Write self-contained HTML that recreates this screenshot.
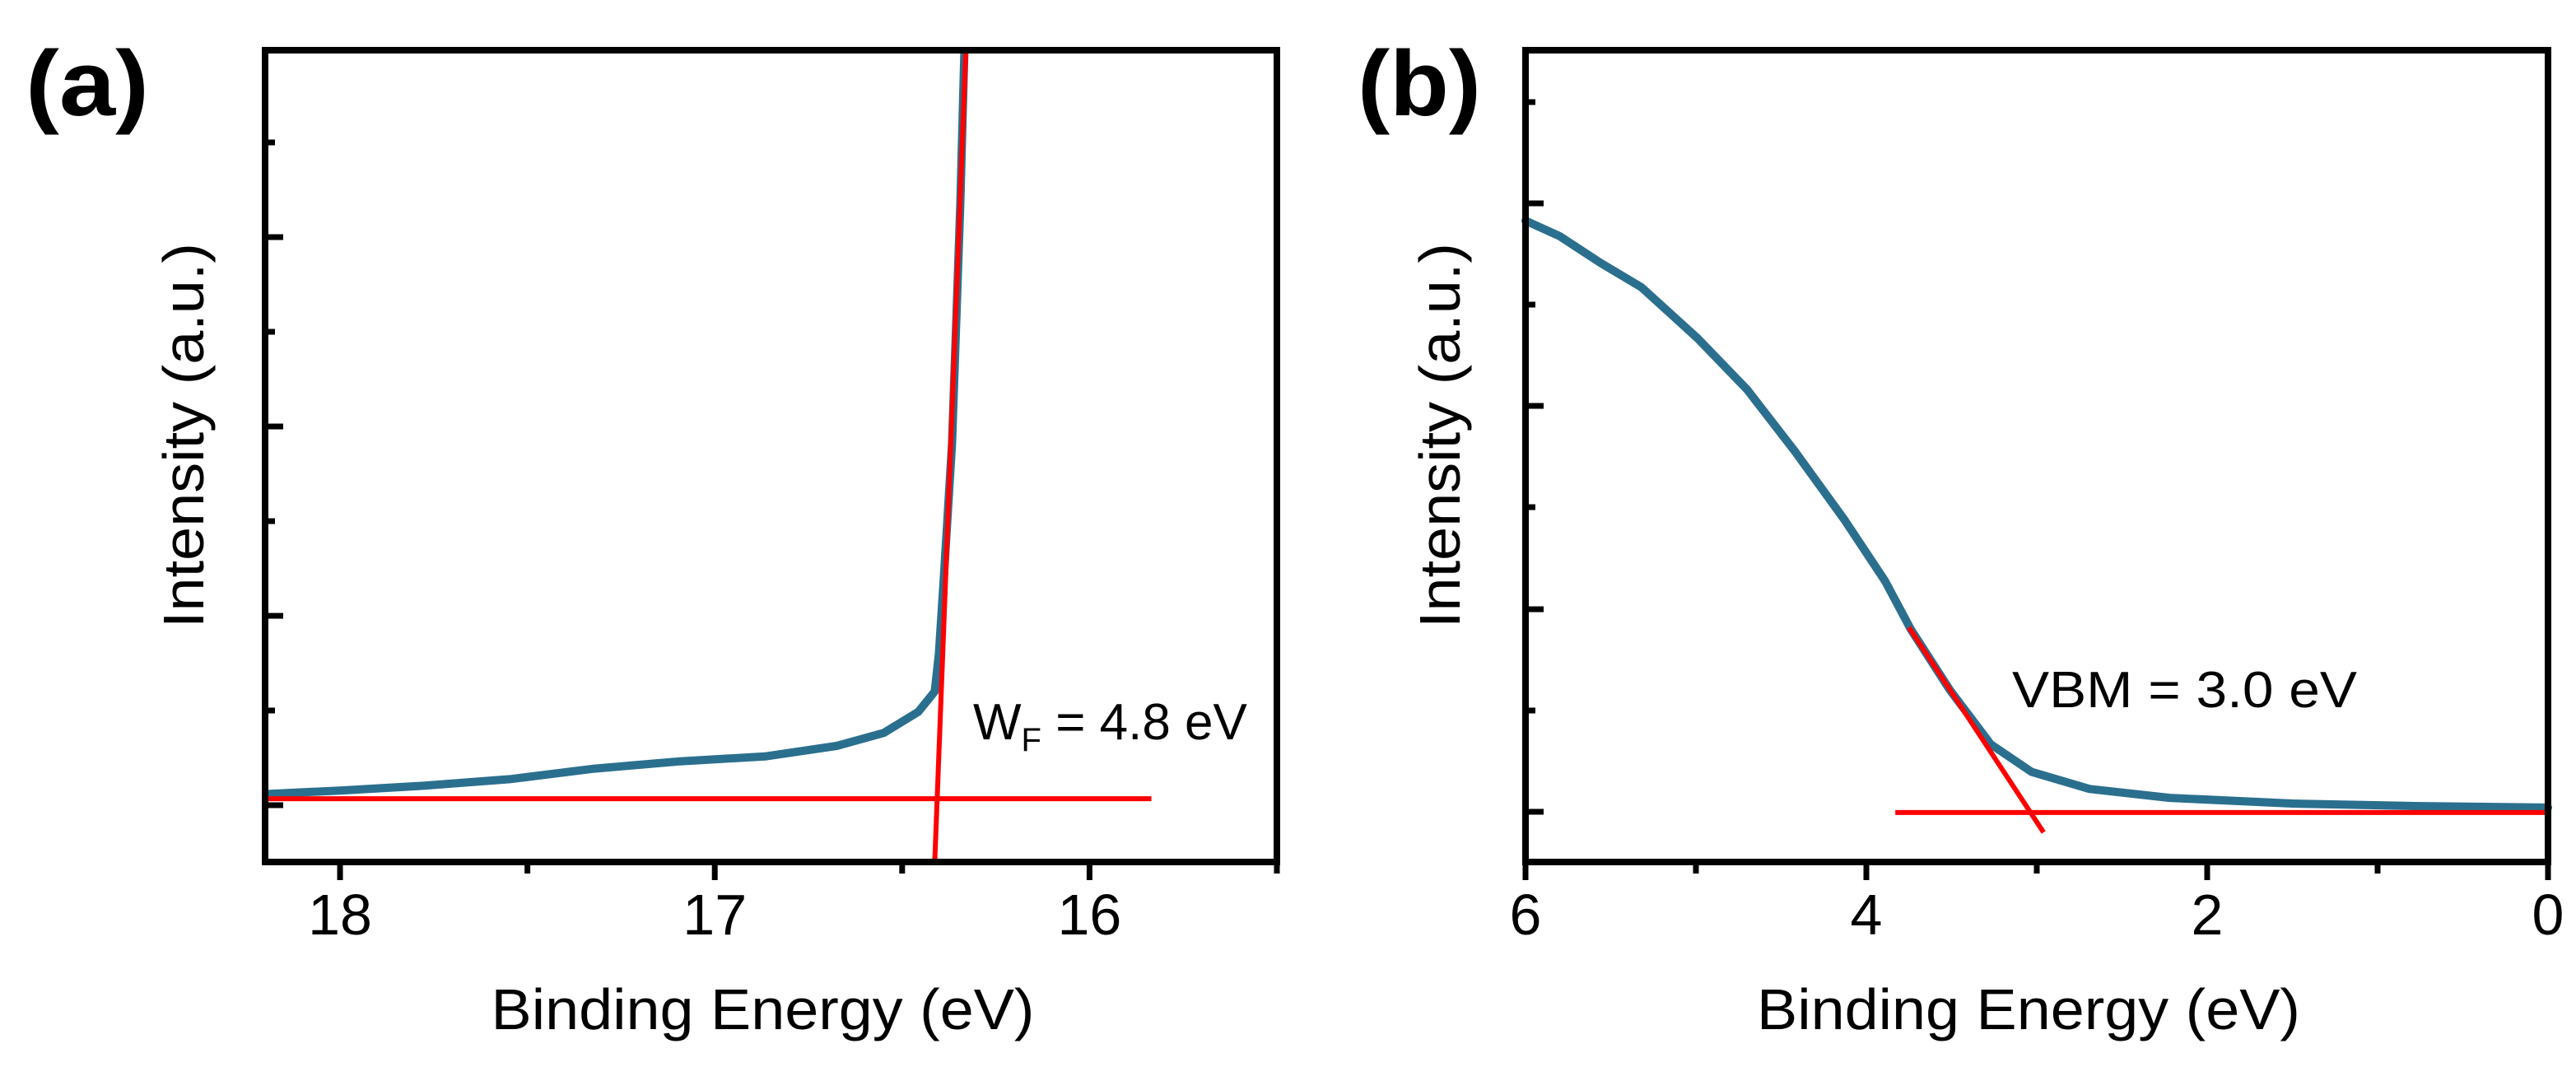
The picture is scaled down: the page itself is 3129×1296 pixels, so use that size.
<!DOCTYPE html>
<html><head><meta charset="utf-8">
<style>
html,body{margin:0;padding:0;background:#fff;}
svg{display:block;font-family:"Liberation Sans",Arial,sans-serif;}
</style></head>
<body>
<svg id="fig" width="3129" height="1296" viewBox="0 0 3129 1296" xmlns="http://www.w3.org/2000/svg">
<rect width="3129" height="1296" fill="#fff"/>
</svg>
<script>
// Panel (a) data
const aEnergy = [18.187,18.0,17.774,17.547,17.321,17.092,16.866,16.675,16.549,16.457,16.413,16.402,16.389,16.367,16.345,16.334];
const aIntensity = [8.4,8.8,9.4,10.2,11.5,12.4,13.0,14.3,15.9,18.5,21.0,25.6,34.8,51.5,80.9,99.8];
const aBaseline = [[18.2,7.8],[15.835,7.8]];
const aEdgeFit = [[16.413,0],[16.330,100]];
const aTicksMajor = [18,17,16];
const aTickLabels = ["18","17","16"];
const aTicksMinor = [17.5,16.5,15.5];
// Panel (b) data
const bEnergy = [6.0,5.80,5.56,5.32,4.99,4.70,4.42,4.13,3.89,3.74,3.51,3.27,3.03,2.69,2.22,1.50,0.79,0.0];
const bIntensity = [79.0,77.1,73.8,70.8,64.5,58.2,50.6,42.2,34.6,28.7,21.2,14.5,11.1,9.0,7.9,7.2,6.9,6.7];
const bBaseline = [[3.83,6.1],[0,6.1]];
const bEdgeFit = [[3.75,28.9],[2.96,3.65]];
const bTicksMajor = [6,4,2,0];
const bTickLabels = ["6","4","2","0"];
const bTicksMinor = [5,3,1];

const NS = "http://www.w3.org/2000/svg";
const svg = document.getElementById('fig');
function mk(tag, attrs, parent){
  const e = document.createElementNS(NS, tag);
  for (const k in attrs) e.setAttribute(k, attrs[k]);
  (parent||svg).appendChild(e);
  return e;
}

function panel(cfg){
  const g = mk('g', {});
  
  
  const L=cfg.left, R=cfg.right, T=61, B=1047;
  const sx = v => L + (cfg.x0 - v) / (cfg.x0 - cfg.x1) * (R - L);
  const sy = v => B - v / 100 * (B - T);
  // y ticks (inward)
  cfg.yTicks.forEach((y,i)=>{
    const t = mk('line',{x1:L,x2:L+(i%2===1?22:12),y1:y,y2:y,stroke:'#000','stroke-width':7},g);
    
    
  });
  // x ticks (outward)
  cfg.major.forEach((v,i)=>{
    const t = mk('line',{x1:sx(v),x2:sx(v),y1:B,y2:B+22,stroke:'#000','stroke-width':7},g);
    
    
    const lb = mk('text',{x:sx(v),y:1135,'font-size':70,'text-anchor':'middle',fill:'#000'},g);
    lb.textContent = cfg.labels[i];
    
    
  });
  cfg.minor.forEach(v=>{
    const t = mk('line',{x1:sx(v),x2:sx(v),y1:B,y2:B+14,stroke:'#000','stroke-width':7},g);
    
    
  });
  // data curve
  const pts = cfg.ex.map((e,i)=>sx(e).toFixed(1)+','+sy(cfg.iy[i]).toFixed(1)).join(' ');
  const c = mk('polyline',{points:pts,fill:'none',stroke:'#2b6f8e','stroke-width':10,'stroke-linejoin':'round','stroke-linecap':'round'},g);
  
  
  // fit lines
  [cfg.base, cfg.fit].forEach((ln,k)=>{
    const l = mk('line',{x1:sx(ln[0][0]),y1:sy(ln[0][1]),x2:sx(ln[1][0]),y2:sy(ln[1][1]),stroke:'#ff0000','stroke-width':6},g);
    
    
  });
  // frame
  const f = mk('rect',{x:L,y:T,width:R-L,height:B-T,fill:'none',stroke:'#000','stroke-width':8},g);
  
  
  // axis titles
  const xt = mk('text',{x:(L+R)/2 - 10,y:1250,'font-size':70,'text-anchor':'middle',fill:'#000',textLength:660,lengthAdjust:'spacingAndGlyphs'},g);
  xt.textContent = 'Binding Energy (eV)';
  
  
  const yt = mk('text',{x:0,y:0,'font-size':70,'text-anchor':'middle',fill:'#000',textLength:468,lengthAdjust:'spacingAndGlyphs',transform:'translate('+cfg.ytX+',529) rotate(-90)'},g);
  yt.textContent = 'Intensity (a.u.)';
  
  
  // panel letter
  const pl = mk('text',{x:cfg.plX,y:140,'font-size':112,'font-weight':'bold',fill:'#000',textLength:150,lengthAdjust:'spacingAndGlyphs'},g);
  pl.textContent = cfg.letter;
  
  
  return g;
}

const ga = panel({name:'panel-a',left:322,right:1551,x0:18.2,x1:15.5,ex:aEnergy,iy:aIntensity,base:aBaseline,fit:aEdgeFit,
  major:aTicksMajor,labels:aTickLabels,minor:aTicksMinor,
  yTicks:[173,288,403,518,633,748,863,978],ytX:247,plX:31,letter:'(a)'});
const gb = panel({name:'panel-b',left:1853,right:3095,x0:6,x1:0,ex:bEnergy,iy:bIntensity,base:bBaseline,fit:bEdgeFit,
  major:bTicksMajor,labels:bTickLabels,minor:bTicksMinor,
  yTicks:[124,247,370,493,616,740,863,986],ytX:1773,plX:1649,letter:'(b)'});

// annotations
const wa = mk('text',{x:1182,y:898,'font-size':62,fill:'#000'},ga);


const w1 = mk('tspan',{},wa); w1.textContent='W';
const w2 = mk('tspan',{'font-size':40,dy:14},wa); w2.textContent='F';
const w3 = mk('tspan',{dy:-14},wa); w3.textContent=' = 4.8 eV';

const vb = mk('text',{x:2444,y:859,'font-size':62,fill:'#000','xml:space':'preserve',textLength:419,lengthAdjust:'spacingAndGlyphs'},gb);
vb.textContent = 'VBM  = 3.0 eV';


</script>
</body></html>
